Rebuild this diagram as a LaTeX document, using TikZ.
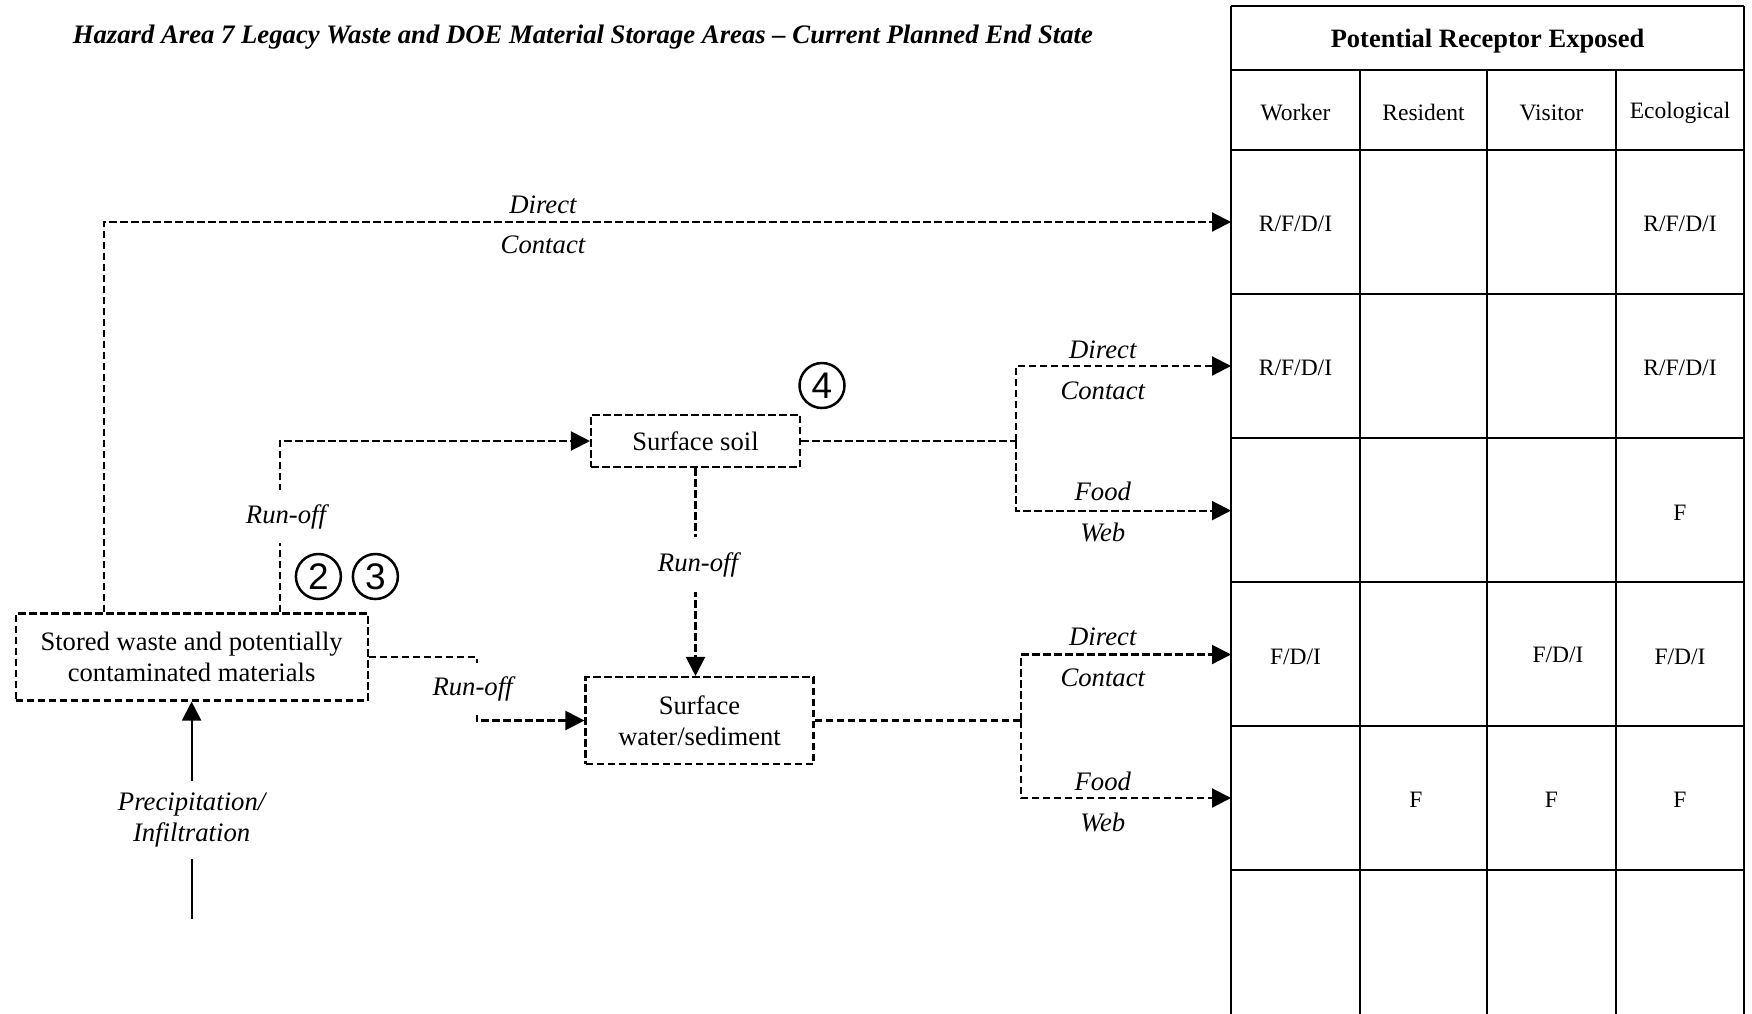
\documentclass[tikz,border=0pt]{standalone}
\usepackage{fontspec}
\setmainfont{Liberation Serif}
\newfontfamily\digitfont{Liberation Sans}
\usetikzlibrary{arrows.meta}
\newcommand{\fsz}[2]{\fontsize{#1pt}{#2pt}\selectfont}
\begin{document}
\begin{tikzpicture}[x=1pt,y=-1pt,
  dl/.style={line width=2.1pt, dash pattern=on 7.5pt off 3.5pt},
  thickdl/.style={line width=2.8pt, dash pattern=on 7.5pt off 3.5pt},
  flow/.style={dl, -{Triangle[length=19pt,width=19pt]}},
  box/.style={draw, dl, align=center, font=\fsz{26.6}{31}, inner sep=0pt},
  lbl/.style={font=\fsz{26.7}{31}\itshape, inner sep=0pt},
  gaplbl/.style={lbl, fill=white, inner xsep=3pt},
  cell/.style={font=\fsz{23.5}{28}},
  gridline/.style={line width=2pt},
  num/.style={circle, draw, line width=2.5pt, minimum size=45pt, inner sep=0pt, font=\digitfont\fsz{37}{37}}
]
\useasboundingbox[fill=white] (0,0) rectangle (1752,1013);

% title
\node[anchor=west, font=\fsz{26.7}{30}\bfseries\itshape, inner sep=0pt] (title) at (72.6,37)
  {Hazard Area 7 Legacy Waste and DOE Material Storage Areas -- Current Planned End State};

% table grid
\draw[gridline] (1231,6) -- (1744,6);
\draw[gridline] (1231,6) -- (1231,1020);
\draw[gridline] (1744,6) -- (1744,1020);
\foreach \yy in {70,150,294,438,582,726,870}
  \draw[gridline] (1231,\yy) -- (1744,\yy);
\foreach \xx in {1360,1487,1616}
  \draw[gridline] (\xx,70) -- (\xx,1020);

\node[font=\fsz{26.5}{30}\bfseries] (hdr) at (1487.5,41) {Potential Receptor Exposed};
\node[cell] (hw) at (1295.5,112.5) {Worker};
\node[cell] (hr) at (1423.5,112.5) {Resident};
\node[cell] (hv) at (1551.5,112.5) {Visitor};
\node[cell] (he) at (1680,112.5) {Ecological};

\node[cell] (c11) at (1295.5,224) {R/F/D/I};
\node[cell] (c14) at (1680,224) {R/F/D/I};
\node[cell] (c21) at (1295.5,368) {R/F/D/I};
\node[cell] (c24) at (1680,368) {R/F/D/I};
\node[cell] (c34) at (1680,512.5) {F};
\node[cell] (c41) at (1295.5,656.5) {F/D/I};
\node[cell] (c43) at (1558,654.5) {F/D/I};
\node[cell] (c44) at (1680,656.5) {F/D/I};
\node[cell] (c52) at (1416,800) {F};
\node[cell] (c53) at (1551.5,800) {F};
\node[cell] (c54) at (1680,800) {F};

\coordinate (t1) at (1231,222);
\coordinate (t2) at (1231,366);
\coordinate (t3) at (1231,510.6);
\coordinate (t4) at (1231,654.5);
\coordinate (t5) at (1231,798);

% boxes
\node[box, minimum width=352pt, minimum height=87pt] (stored) at (191.6,657)
  {Stored waste and potentially\\contaminated materials};
\node[box, minimum width=209pt, minimum height=52.5pt] (soil) at (695.5,441) {Surface soil};
\node[box, minimum width=228pt, minimum height=87pt] (water) at (699.5,720.5)
  {Surface\\water/sediment};

\coordinate (k1) at (477,657);
\coordinate (b1) at (1015.6,441);
\coordinate (b2) at (1021,720.5);
\coordinate (p0) at (191.6,918.5);

% connectors
\draw[flow] ([xshift=-88pt]stored.north) |- (t1);
\draw[flow] ([xshift=88pt]stored.north) |- (soil.west);
\draw[flow] (stored.east) -- (k1) |- (water.west);
\draw[flow] (soil.south) -- (soil.south |- water.north);
\draw[thickdl] (soil.east) -- (b1);
\draw[flow] (b1) |- (t2);
\draw[flow] (b1) |- (t3);
\draw[thickdl] (water.east) -- (b2);
\draw[flow] (b2) |- (t4);
\draw[flow] (b2) |- (t5);
\draw[line width=2pt, -{Triangle[length=19pt,width=19pt]}] (p0) -- (stored.south);

% labels
\node[lbl] (l1a) at (543,204.5) {Direct};
\node[lbl] (l1b) at (543,244.5) {Contact};
\node[lbl] (l2a) at (1102.8,349.7) {Direct};
\node[lbl] (l2b) at (1102.8,391) {Contact};
\node[lbl] (l3a) at (1102.8,491.6) {Food};
\node[lbl] (l3b) at (1102.8,532.5) {Web};
\node[lbl] (l4a) at (1102.8,637) {Direct};
\node[lbl] (l4b) at (1102.8,678) {Contact};
\node[lbl] (l5a) at (1102.8,781) {Food};
\node[lbl] (l5b) at (1102.8,822) {Web};

\node[gaplbl, inner ysep=14pt] (r1) at (286,516.5) {Run-off};
\node[gaplbl, inner ysep=14pt] (r2) at (472.6,689) {Run-off};
\node[gaplbl, inner ysep=15pt] (r3) at (698,564.5) {Run-off};
\node[gaplbl, inner ysep=12pt, align=center] (prec) at (191.6,820) {Precipitation/\\Infiltration};

% circled numbers
\node[num] (n2) at (318.4,576.5) {2};
\node[num] (n3) at (375.4,576.5) {3};
\node[num] (n4) at (822,385.5) {4};
\end{tikzpicture}
\end{document}
